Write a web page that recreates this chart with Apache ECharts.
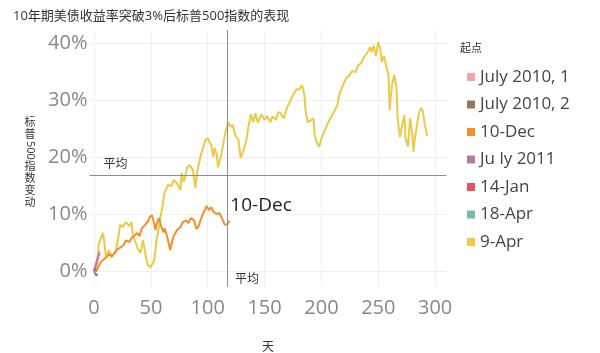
<!DOCTYPE html>
<html>
<head>
<meta charset="utf-8">
<script src="https://cdn.jsdelivr.net/npm/echarts@6/dist/echarts.min.js"></script>
<style>
html, body { margin: 0; padding: 0; background: #fff; }
#main { width: 600px; height: 353px; }
</style>
</head>
<body>
<div id="main"></div>
<script>
var font = "'Open Sans', 'Noto Sans CJK SC', sans-serif";

var seriesNames = ['July 2010, 1', 'July 2010, 2', '10-Dec', 'Ju ly 2011', '14-Jan', '18-Apr', '9-Apr'];
var colors = ['#f4a3ab', '#9c755f', '#f28e2b', '#b07aa1', '#e15759', '#76b7b2', '#edc948'];

var xTicks = [0, 50, 100, 150, 200, 250, 300];
var yTicks = [0, 10, 20, 30, 40];

// [day, % change]
var jul2010a = [[0, 0], [1, 0.8], [2, 1.6], [3, 2.3], [4, 2.9], [5, 3.5]];
var jul2010b = [[0, 0], [1, -0.4], [2, -0.8], [3, -0.5]];
var dec10 = [[0, 0], [2, 0], [4, 0.9], [6, 1.6], [9, 2.1], [11, 2.5], [14, 3.0], [16, 2.6], [19, 3.5], [21, 3.9],
    [24, 4.2], [26, 4.6], [28, 5.4], [31, 5.1], [33, 5.8], [36, 6.3], [38, 6.7], [40, 6.1], [42, 7.5], [45, 8.1],
    [48, 8.9], [49, 9.5], [51, 9.8], [53, 8.2], [54, 7.2], [55, 8.2], [57, 9.3], [59, 7.9], [61, 6.8], [62, 7.5],
    [64, 6.3], [66, 4.6], [67, 3.7], [69, 5.4], [70, 6.1], [73, 7.2], [76, 7.7], [78, 8.6], [81, 8.9], [83, 8.4],
    [85, 9.3], [88, 8.9], [90, 7.4], [92, 7.9], [94, 9.1], [96, 10.2], [98, 10.9], [99, 11.4], [101, 10.7], [103, 11.2],
    [105, 10.4], [106, 10.7], [108, 10.0], [110, 10.2], [112, 9.5], [114, 8.6], [115, 8.1], [117, 8.2], [119, 8.8]];
var jul2011 = [[0, 0], [1, 0.6], [2, 1.3], [3, 2.0], [4, 2.7], [5, 3.2]];
var jan14 = [[0, 0], [1, 0.4], [2, 0.1]];
var apr18 = [[0, 0], [1, 0.3], [2, -0.2]];
var apr9 = [[0, 0], [1, 0.2], [3, 1.6], [4, 4.6], [6, 5.8], [8, 6.7], [10, 3.3], [11, 2.3], [13, 3.7], [15, 2.3],
    [17, 3.0], [19, 3.3], [21, 5.4], [23, 8.2], [25, 7.7], [28, 8.6], [31, 7.9], [33, 8.6], [34, 6.5], [36, 5.3],
    [39, 3.7], [41, 3.2], [43, 5.4], [45, 3.3], [47, 1.1], [50, 0.7], [53, 1.9], [55, 5.4], [58, 8.9], [60, 11.2],
    [62, 13.7], [65, 15.1], [68, 14.9], [70, 16.0], [73, 15.4], [76, 14.2], [77, 17.2], [79, 15.6], [82, 18.2], [84, 18.6],
    [87, 17.7], [89, 14.6], [91, 17.7], [94, 20.4], [98, 23.0], [100, 23.3], [103, 22.1], [105, 20.0], [106, 21.6], [108, 20.4],
    [109, 18.2], [112, 20.4], [115, 23.9], [118, 26.1], [120, 25.3], [122, 25.6], [124, 23.9], [127, 23.0], [129, 19.8], [131, 20.9],
    [134, 23.0], [136, 25.6], [138, 27.5], [140, 26.1], [142, 27.7], [144, 26.0], [147, 27.5], [150, 26.5], [152, 27.2], [155, 26.1],
    [157, 27.2], [160, 26.5], [162, 27.9], [164, 27.7], [167, 26.8], [170, 28.8], [172, 29.6], [175, 30.9], [178, 31.9], [180, 31.8],
    [183, 32.6], [185, 30.9], [186, 28.2], [188, 26.1], [191, 26.5], [193, 26.8], [194, 23.9], [196, 22.5], [198, 21.8], [200, 23.3],
    [203, 24.7], [206, 26.1], [208, 26.8], [211, 27.9], [214, 29.1], [216, 31.2], [219, 32.6], [222, 33.9], [224, 34.2], [227, 35.1],
    [230, 34.9], [232, 36.0], [235, 36.5], [237, 37.4], [240, 38.2], [243, 39.3], [244, 38.4], [246, 39.5], [248, 37.7], [250, 40.2],
    [252, 38.8], [253, 36.7], [255, 37.7], [257, 36.0], [259, 34.4], [260, 28.2], [262, 32.6], [264, 34.4], [266, 32.1], [267, 26.8],
    [269, 23.5], [271, 25.6], [273, 27.4], [274, 23.3], [276, 21.8], [278, 26.8], [280, 23.9], [281, 20.9], [282, 23.0], [284, 25.6],
    [286, 27.9], [288, 28.6], [289, 28.2], [291, 25.6], [293, 23.7]];

var avgPct = 16.8;
var avgDay = 117;

var myChart = echarts.init(document.getElementById('main'));

function lineSeries(name, data, color) {
    return {
        name: name,
        type: 'line',
        data: data,
        showSymbol: false,
        symbol: 'none',
        lineStyle: { color: color, width: 2 },
        itemStyle: { color: color },
        animation: false
    };
}

var s9apr = lineSeries('9-Apr', apr9, colors[6]);
s9apr.markLine = {
    symbol: 'none',
    silent: true,
    animation: false,
    lineStyle: { color: '#8c8c8c', width: 1, type: 'solid' },
    label: { show: false },
    data: [{ yAxis: avgPct }, { xAxis: avgDay }]
};
var sDec = lineSeries('10-Dec', dec10, colors[2]);
sDec.endLabel = {
    show: true,
    formatter: '10-Dec',
    fontSize: 19,
    color: '#222',
    fontFamily: font,
    distance: 1,
    offset: [0, -15]
};

// vertical y axis title, pieces stacked
var yNameStyle = { fontSize: 11, fill: '#333', fontFamily: font, align: 'center', verticalAlign: 'top' };

var option = {
    animation: false,
    color: colors,
    title: [
        { text: '10年期美债收益率突破3%后标普500指数的表现', left: 8, top: 5,
          textStyle: { fontSize: 13, fontWeight: 'normal', color: '#333', fontFamily: font } },
        { text: '起点', left: 455, top: 38,
          textStyle: { fontSize: 11, fontWeight: 'normal', color: '#333', fontFamily: font } }
    ],
    legend: {
        orient: 'vertical',
        left: 462,
        top: 62,
        icon: 'rect',
        itemWidth: 8,
        itemHeight: 8,
        itemGap: 7.5,
        data: seriesNames,
        textStyle: { fontSize: 17, color: '#444', fontFamily: font, lineHeight: 20 }
    },
    grid: { left: 89.5, right: 153.5, top: 30, bottom: 66, outerBoundsMode: 'none' },
    xAxis: {
        type: 'value',
        min: -4,
        max: 310,
        name: '天',
        nameLocation: 'middle',
        nameGap: 55,
        nameTextStyle: { fontSize: 12, color: '#333', fontFamily: font },
        axisLine: { show: false },
        axisTick: { show: false, customValues: xTicks },
        axisLabel: { customValues: xTicks, fontSize: 20, color: '#888', fontFamily: font, margin: 11 },
        splitLine: { show: true, lineStyle: { color: '#f0f0f0' } }
    },
    yAxis: {
        type: 'value',
        min: -2.8,
        max: 42.3,
        axisLine: { show: false },
        axisTick: { show: false, customValues: yTicks },
        axisLabel: { customValues: yTicks, formatter: '{value}%', fontSize: 20, color: '#888', fontFamily: font, margin: 2 },
        splitLine: { show: true, lineStyle: { color: '#f0f0f0' } }
    },
    series: [
        s9apr,
        sDec,
        lineSeries('July 2010, 1', jul2010a, colors[0]),
        lineSeries('July 2010, 2', jul2010b, colors[1]),
        lineSeries('Ju ly 2011', jul2011, colors[3]),
        lineSeries('14-Jan', jan14, colors[4]),
        lineSeries('18-Apr', apr18, colors[5])
    ]
};
myChart.setOption(option);

// labels for the two reference lines and the y axis title
var pH = myChart.convertToPixel({ gridIndex: 0 }, [-4, avgPct]);
var pV = myChart.convertToPixel({ gridIndex: 0 }, [avgDay, -1.8]);
myChart.setOption({
    graphic: [
        { type: 'text', x: 30, y: 117, silent: true,
          style: Object.assign({ text: '标\n普', lineHeight: 12 }, yNameStyle) },
        { type: 'text', x: 30, y: 141, rotation: -Math.PI / 2, silent: true,
          style: { text: '500', fontSize: 11, fill: '#333', fontFamily: font, align: 'left', verticalAlign: 'middle' } },
        { type: 'text', x: 30, y: 161, silent: true,
          style: Object.assign({ text: '指\n数\n变\n动', lineHeight: 12 }, yNameStyle) },
        { type: 'text', left: pH[0] + 14, top: pH[1] - 17, silent: true,
          style: { text: '平均', fontSize: 12, fill: '#333', fontFamily: font } },
        { type: 'text', left: pV[0] + 8, top: pV[1] - 8, silent: true,
          style: { text: '平均', fontSize: 12, fill: '#333', fontFamily: font } }
    ]
});
</script>
</body>
</html>
